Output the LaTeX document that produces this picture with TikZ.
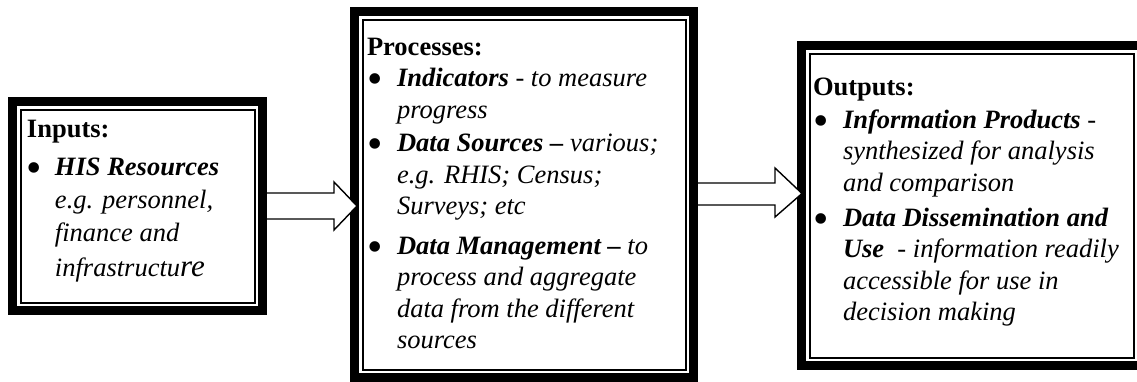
\documentclass[tikz,border=0pt]{standalone}
\usepackage{fontspec}
\setmainfont{Liberation Serif}[
  UprightFont    = {Liberation Serif},
  BoldFont       = {Liberation Serif Bold},
  ItalicFont     = {Liberation Serif Italic},
  BoldItalicFont = {Liberation Serif Bold Italic}]
\usepackage{array}
\usetikzlibrary{calc}

\tikzset{
  x=1pt, y=-1pt,
  % thick outer border of each stage box; anchors sit on the outer edge
  framebox/.style={rectangle, draw=black, fill=white, line width=9pt,
    inner sep=0pt, outer sep=4.5pt},
  % thin line running inside the thick border
  innerline/.style={draw=black, line width=2pt},
  % hollow block arrow between stages
  blockarrow/.style={draw=black, fill=white, line width=1.4pt, line join=miter},
  boxtext/.style={anchor=base west, inner sep=0pt, outer sep=0pt,
    font=\fontsize{26.5}{31.5}\selectfont},
}

\newcommand\kw[1]{\textbf{\textit{#1}}}
\newcommand\bul{\raisebox{-7pt}{\fontsize{44}{44}\selectfont\textbullet}}

\begin{document}
\begin{tikzpicture}
\useasboundingbox (0,0) rectangle (1137,381);
\clip (0,0) rectangle (1137,381);

% stage boxes
\node[framebox, minimum width=250pt, minimum height=209pt] (box1) at (137.5,206) {};
\node[framebox, minimum width=339pt, minimum height=366pt] (box2) at (524,194.5) {};
\node[framebox, minimum width=340pt, minimum height=320pt] (box3) at (971.5,205.5) {};

\foreach \b in {box1,box2,box3}
  \draw[innerline] ($(\b.north west)+(12.5,12.5)$) rectangle ($(\b.south east)+(-12.5,-12.5)$);

% box texts
\node[boxtext] (inputs) at (27,137) {\begin{tabular}[t]{@{}p{28pt}@{}l@{}}
\multicolumn{2}{@{}l@{}}{\textbf{Inputs:}}\\[6.5pt]
\bul & \kw{HIS Resources}\\[1.5pt]
 & \textit{e.g. personnel,}\\[1.5pt]
 & \textit{finance and}\\[3.5pt]
 & \textit{infrastructu{\fontsize{31}{31}\selectfont re}}
\end{tabular}};

\node[boxtext] (processes) at (367,55) {\begin{tabular}[t]{@{}p{30pt}@{}l@{}}
\multicolumn{2}{@{}l@{}}{\textbf{Processes:}}\\
\bul & \kw{Indicators} \textit{- to measure}\\
 & \textit{progress}\\[2pt]
\bul & \kw{Data Sources --} \textit{various;}\\
 & \textit{e.g. RHIS; Census;}\\
 & \textit{Surveys; etc}\\[8pt]
\bul & \kw{Data Management --} \textit{to}\\
 & \textit{process and aggregate}\\
 & \textit{data from the different}\\
 & \textit{sources}
\end{tabular}};

\node[boxtext] (outputs) at (813,95) {\begin{tabular}[t]{@{}p{30pt}@{}l@{}}
\multicolumn{2}{@{}l@{}}{\textbf{Outputs:}}\\[1.5pt]
\bul & \kw{Information Products} \textit{-}\\
 & \textit{synthesized for analysis}\\
 & \textit{and comparison}\\[3.5pt]
\bul & \kw{Data Dissemination and}\\
 & \kw{Use} \textit{\ - information readily}\\
 & \textit{accessible for use in}\\
 & \textit{decision making}
\end{tabular}};

% block arrows
\coordinate (tip1) at ($(box2.west |- box1.east)+(7,0)$);
\draw[blockarrow] ($(box1.east)+(0,-13)$) -- ($(tip1)+(-23,-13)$) -- ($(tip1)+(-23,-24)$)
  -- (tip1) -- ($(tip1)+(-23,24)$) -- ($(tip1)+(-23,13)$) -- ($(box1.east)+(0,13)$);

\coordinate (tip2) at ($(box3.west |- box2.east)+(5,-1)$);
\draw[blockarrow] ($(box2.east)+(0,-11.5)$) -- ($(tip2)+(-27,-10.5)$) -- ($(tip2)+(-27,-25.5)$)
  -- (tip2) -- ($(tip2)+(-27,23.5)$) -- ($(tip2)+(-27,11.5)$) -- ($(box2.east)+(0,10.5)$);
\end{tikzpicture}
\end{document}
